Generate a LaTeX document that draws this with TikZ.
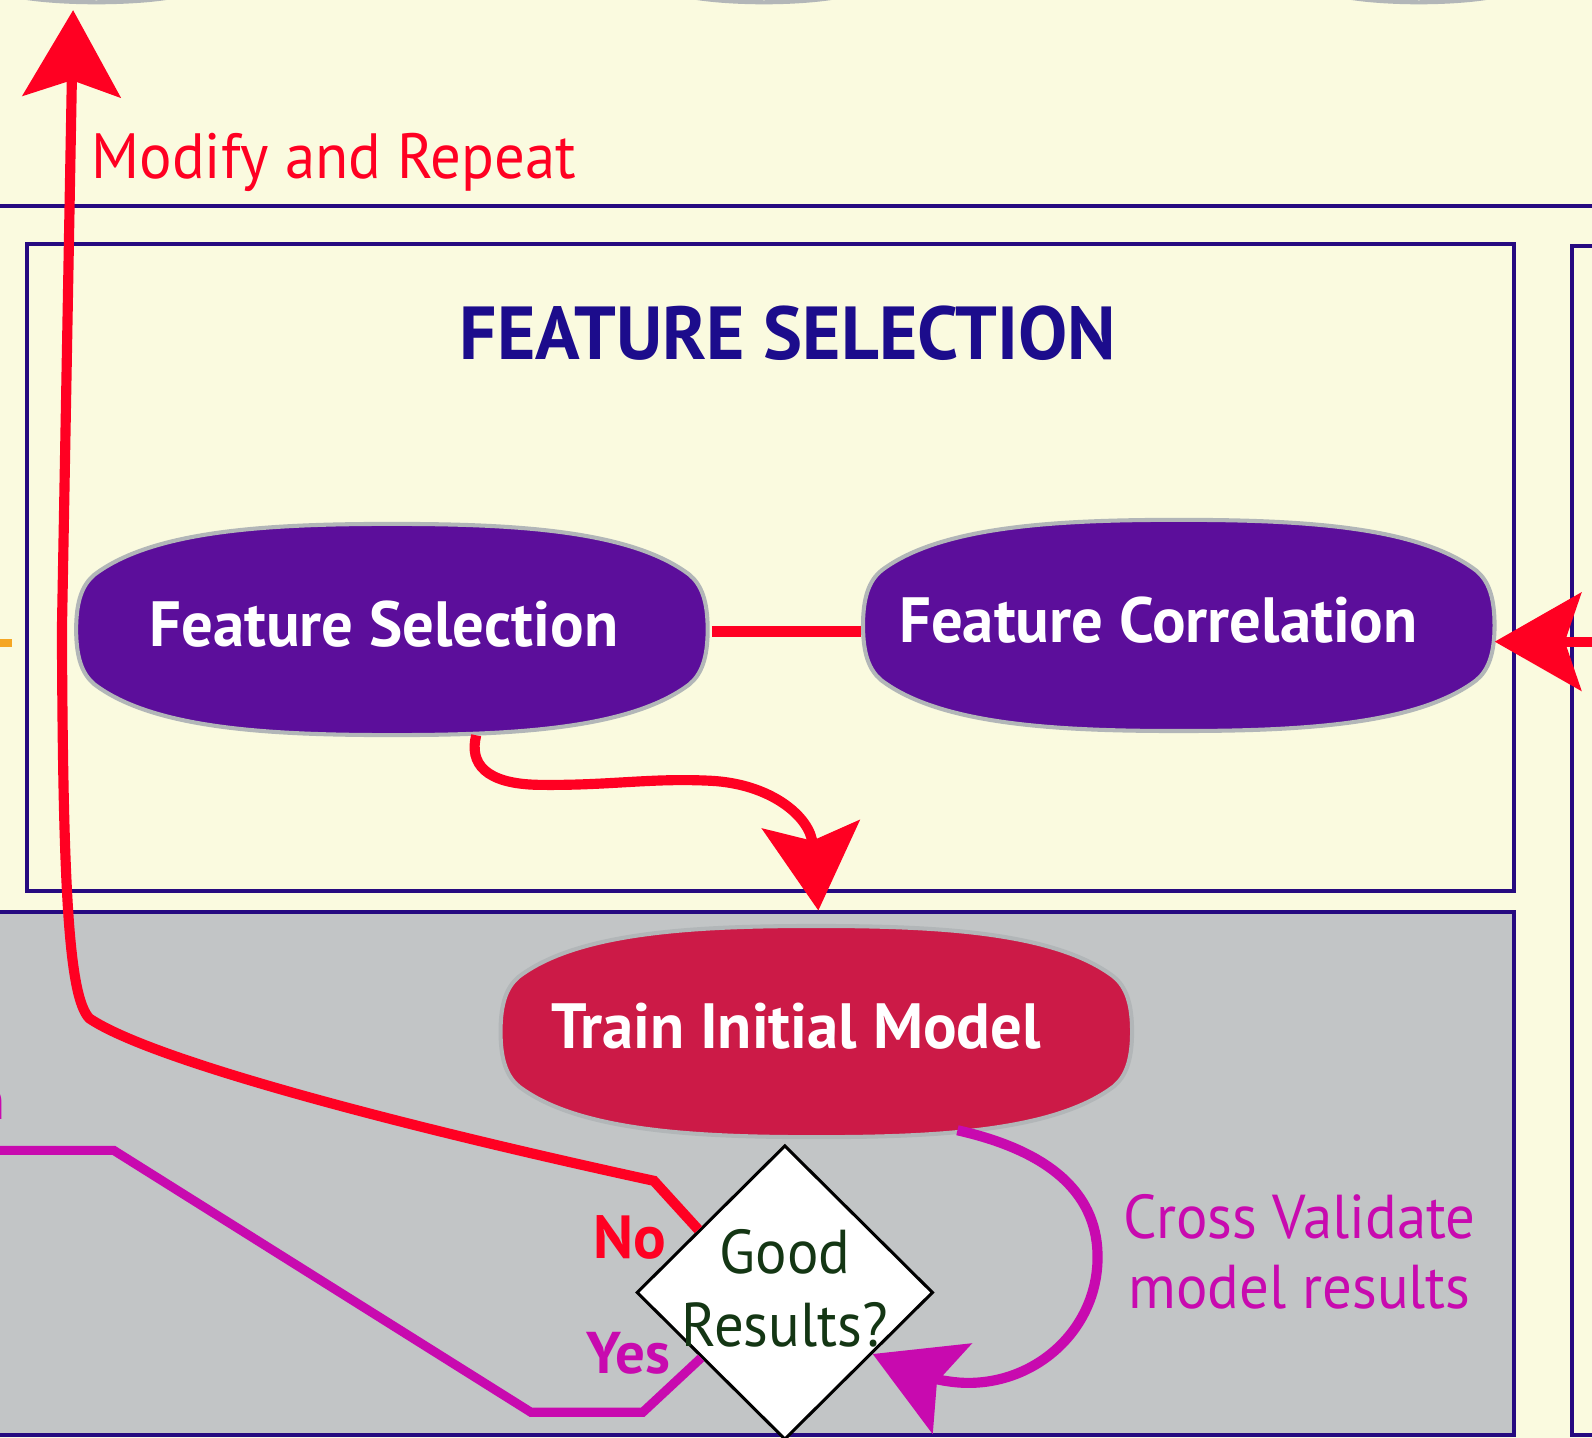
\documentclass[tikz,border=0pt]{standalone}
\usepackage{fontspec}
\setmainfont{PT Sans}
\newfontfamily\regfont{PT Sans}[FakeStretch=0.95]
\newfontfamily\boldfam{PT Sans}[FakeStretch=0.98]
\usetikzlibrary{arrows.meta,shapes.geometric,calc}

\definecolor{bgc}{RGB}{250,250,223}
\definecolor{indigo}{RGB}{38,10,128}
\definecolor{titleblue}{RGB}{28,12,140}
\definecolor{nodepurple}{RGB}{92,14,155}
\definecolor{nodecrimson}{RGB}{204,26,71}
\definecolor{greyzone}{RGB}{194,197,198}
\definecolor{blobedge}{RGB}{178,182,184}
\definecolor{arrred}{RGB}{255,0,34}
\definecolor{magenta2}{RGB}{200,10,175}
\definecolor{darkgreen}{RGB}{20,54,20}
\definecolor{orangec}{RGB}{245,166,35}

\newcommand{\blobat}[2]{%
 \filldraw[fill=#2, draw=blobedge, line width=4pt, shift={#1}]
  (-311,0) .. controls (-311,-28) and (-305,-44) .. (-293,-54)
  .. controls (-235,-98) and (-120,-104) .. (0,-104)
  .. controls (120,-104) and (235,-98) .. (293,-54)
  .. controls (305,-44) and (311,-28) .. (311,0)
  .. controls (311,28) and (305,44) .. (293,54)
  .. controls (235,98) and (120,104) .. (0,104)
  .. controls (-120,104) and (-235,98) .. (-293,54)
  .. controls (-305,44) and (-311,28) .. (-311,0) -- cycle;}

\tikzset{
  frame/.style={draw=indigo, line width=4pt},
  blobtext/.style={minimum width=622pt, minimum height=208pt, inner sep=0pt,
     text=white, text depth=12pt, font=\boldfam\bfseries\fontsize{63}{63}\selectfont},
  redline/.style={draw=arrred, line width=10pt},
  bigtip/.style={-{Stealth[length=85pt,width=96pt,inset=16pt]}},
  redarrow/.style={draw=arrred, line width=10pt, bigtip},
  magarrow/.style={draw=magenta2, line width=10pt, bigtip},
  magline/.style={draw=magenta2, line width=9pt},
}

\begin{document}
\begin{tikzpicture}[x=1pt,y=-1pt]
\clip (0,0) rectangle (1568,1416);
\fill[bgc] (0,0) rectangle (1568,1416);

% remnants of shapes above
\draw[blobedge, line width=4pt] (20,-3) .. controls (60,4) and (130,4) .. (170,-3);
\draw[blobedge, line width=4pt] (680,-3) .. controls (720,4) and (785,4) .. (825,-3);
\draw[blobedge, line width=4pt] (1325,-3) .. controls (1365,4) and (1430,4) .. (1470,-3);

% frames
\draw[frame] (-5,203) -- (1575,203);
\draw[frame] (27,240) rectangle (1491,878);
\draw[frame] (1580,242) -- (1548,242) -- (1548,1413) -- (1580,1413);
\filldraw[frame, fill=greyzone] (-10,898) rectangle (1491,1413);

% orange stub
\coordinate (orA) at (-5,633);
\coordinate (orB) at (12,633);
\draw[orangec, line width=8pt] (orA) -- (orB);

% title
\node[font=\boldfam\bfseries\fontsize{74}{74}\selectfont, text=titleblue] (title) at (776,328) {FEATURE SELECTION};

% blobs
\coordinate (fsc) at (386,620);
\coordinate (fcc) at (1161,616);
\coordinate (tmc) at (804,1016);
\blobat{(fsc)}{nodepurple}
\blobat{(fcc)}{nodepurple}
\blobat{(tmc)}{nodecrimson}
\node[blobtext] (fs) at (fsc) {\hspace*{-16pt}Feature Selection};
\node[blobtext] (fc) at (fcc) {\hspace*{-40pt}Feature Correlation};
\node[blobtext] (tm) at (tmc) {\hspace*{-40pt}Train Initial Model};

% diamond
\node[diamond, draw=black, fill=white, line width=3pt, minimum width=292pt, minimum height=290pt,
      inner sep=0pt, font=\regfont\fontsize{61}{72}\selectfont, text=darkgreen] (gr) at (773,1273)
  {\makebox[0pt][c]{\raisebox{-9pt}[0pt][0pt]{\begin{tabular}{@{}c@{}}Good\\Results?\end{tabular}}}};

% connectors
\draw[redline] (fs.east) ++(4,2) -- ($(fs.east -| fc.west)+(-2,2)$);
\coordinate (rin) at (1580,632);
\draw[redarrow] (rin) -- (rin -| fc.east);
\draw[redarrow] ($(fs.south)+(83,0)$) .. controls (462,752) and (478,772) .. (530,773)
   .. controls (600,774) and (640,766) .. (700,769)
   .. controls (760,772) and (798,805) .. ($(tm.north)+(2,-15)$);
\draw[magarrow] ($(tm.south)+(139,-7)$) .. controls (1040,1135) and (1082,1180) .. (1081,1240)
   .. controls (1080,1310) and (1020,1364) .. (950,1362)
   .. controls (920,1361) and (895,1349) .. (gr.-35);
\coordinate (toptip) at (72,10);
\draw[redarrow] (gr.144) -- (644,1163) .. controls (400,1110) and (150,1045) .. (88,1003)
   .. controls (68,982) and (62,880) .. (61,620) -- (toptip);
\coordinate (yesout) at (-10,1133);
\draw[magline] (gr.218) -- (633,1391) -- (523,1391) -- (112,1133) -- (yesout);

% labels
\node[font=\regfont\fontsize{63}{63}\selectfont, text=arrred, anchor=base west, inner sep=0pt] (modlab) at (90,176) {Modify and Repeat};
\node[align=center, font=\regfont\fontsize{61}{69}\selectfont, text=magenta2] (cvlab) at (1280,1233) {Cross Validate\\model results};
\node[font=\bfseries\fontsize{60}{60}\selectfont, text=arrred] (nolab) at (620,1219) {No};
\node[font=\bfseries\fontsize{58}{58}\selectfont, text=magenta2] (yeslab) at (619,1333) {Yes};
\node[font=\regfont\fontsize{55}{55}\selectfont, text=magenta2, anchor=base east, inner sep=0pt] (cut) at (6,1103) {n};
\end{tikzpicture}
\end{document}
